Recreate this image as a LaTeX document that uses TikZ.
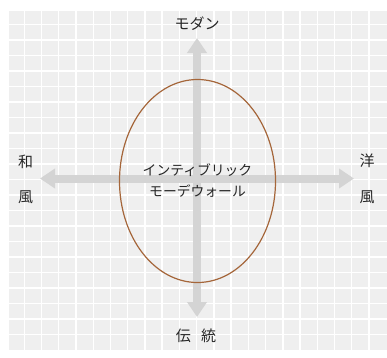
\documentclass[tikz,border=0pt]{standalone}
\usepackage{fontspec}
\setmainfont{Noto Sans CJK JP}
\usetikzlibrary{shapes.geometric,arrows.meta}
\definecolor{bgc}{HTML}{EFEFEF}
\definecolor{axc}{HTML}{D4D4D4}
\definecolor{elc}{HTML}{A5663A}
\definecolor{txc}{HTML}{262626}
\tikzset{
  gridline/.style={white,line width=1.4pt},
  axis/.style={axc,line width=8pt,{Triangle[width=19pt,length=15pt]}-{Triangle[width=19pt,length=15pt]}},
  lbl/.style={text=txc,font=\fontsize{15}{15}\selectfont,inner sep=0pt},
  oval/.style={ellipse,draw=elc,line width=1.2pt,minimum width=156pt,minimum height=203pt,inner sep=0pt,text=txc,align=center,font=\fontsize{13.8}{21}\selectfont}
}
\begin{document}
\begin{tikzpicture}[x=1pt,y=-1pt]
\useasboundingbox (0,0) rectangle (387,357);
\fill[bgc] (9,11) rectangle (387,350);
\foreach \k in {0,...,20} {
  \draw[gridline] ({24.3+17.235*\k},11) -- ({24.3+17.235*\k},350);
  \draw[gridline] (9,{24.3+15.5*\k}) -- (387,{24.3+15.5*\k});
}
\coordinate (top) at (197,38);
\coordinate (bot) at (197,317);
\coordinate (lft) at (40,178.5);
\coordinate (rgt) at (354,178.5);
\draw[axis] (top) -- (bot);
\draw[axis] (lft) -- (rgt);
\node[oval] (e) at (197.5,181) {インティブリック\\モーデウォール};
\node[lbl] (modern) at (197,24) {モダン};
\node[lbl] (dento) at (196,336) {伝\hspace{0.7em}統};
\node[lbl] (wa) at (25.5,162) {和};
\node[lbl] (wafu) at (25.5,197) {風};
\node[lbl] (yo) at (367,161) {洋};
\node[lbl] (yofu) at (367,197) {風};
\end{tikzpicture}
\end{document}
